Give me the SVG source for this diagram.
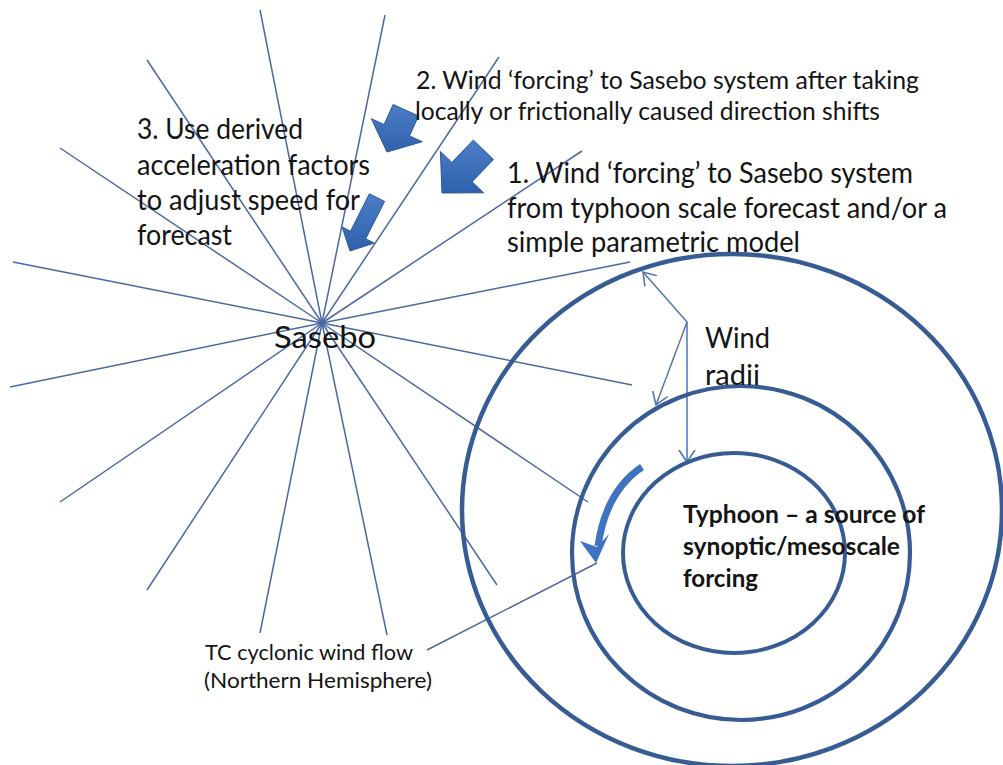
<svg xmlns="http://www.w3.org/2000/svg" width="1003" height="765" viewBox="0 0 1003 765">
<style>
.ray{stroke:#4A68A4;stroke-width:1.5;fill:none}
.ring{stroke:#375C93;fill:none}
.txt{font-family:Lato,"Liberation Sans",sans-serif;fill:#141414}
.blk{fill:url(#bg);stroke:#2C5899;stroke-width:1}
.rad{stroke:#5A76A4;stroke-width:1.5;fill:none;marker-end:url(#v)}
.rad2{stroke:#3F77C6;stroke-width:1.5;fill:none;marker-end:url(#v2)}
</style>
<defs>
<linearGradient id="bg" x1="0" y1="0" x2="0" y2="1">
<stop offset="0" stop-color="#4C7EC6"/>
<stop offset="1" stop-color="#2F62AC"/>
</linearGradient>
<marker id="v" viewBox="0 0 13 18" markerWidth="13" markerHeight="18" refX="12" refY="9" orient="auto" markerUnits="userSpaceOnUse">
<path d="M0,1 L12,9 L0,17" fill="none" stroke="#5A76A4" stroke-width="1.6"/>
</marker>
<marker id="v2" viewBox="0 0 13 18" markerWidth="13" markerHeight="18" refX="12" refY="9" orient="auto" markerUnits="userSpaceOnUse">
<path d="M0,1 L12,9 L0,17" fill="none" stroke="#3F77C6" stroke-width="1.6"/>
</marker>
</defs>
<rect width="1003" height="765" fill="#ffffff"/>

<g id="connectors">
<g id="rays">
<line class="ray" x1="322" y1="323" x2="260" y2="10"/>
<line class="ray" x1="322" y1="323" x2="385" y2="15"/>
<line class="ray" x1="322" y1="323" x2="147" y2="60"/>
<line class="ray" x1="322" y1="323" x2="60" y2="148"/>
<line class="ray" x1="322" y1="323" x2="499" y2="57"/>
<line class="ray" x1="322" y1="323" x2="582" y2="151"/>
<line class="ray" x1="322" y1="323" x2="630" y2="262"/>
<line class="ray" x1="322" y1="323" x2="13" y2="262"/>
<line class="ray" x1="322" y1="323" x2="10" y2="387"/>
<line class="ray" x1="322" y1="323" x2="632" y2="385"/>
<line class="ray" x1="322" y1="323" x2="60" y2="502"/>
<line class="ray" x1="322" y1="323" x2="147" y2="590"/>
<line class="ray" x1="322" y1="323" x2="260" y2="633"/>
<line class="ray" x1="322" y1="323" x2="387" y2="635"/>
<line class="ray" x1="322" y1="323" x2="497" y2="585"/>
<line class="ray" x1="322" y1="323" x2="588" y2="502"/>
</g>
<line class="ray" x1="427" y1="650" x2="597" y2="563"/>
<path class="rad" d="M687,322 L643,272"/>
<path class="rad" d="M687,322 L656,405"/>
<path class="rad2" d="M687,322 L687,462"/>
</g>

<g id="typhoon">
<ellipse class="ring" cx="732" cy="510" rx="270" ry="256" stroke-width="4.5"/>
<ellipse class="ring" cx="741" cy="553" rx="169" ry="167" stroke-width="4.2"/>
<ellipse class="ring" cx="734" cy="553" rx="111" ry="100" stroke-width="4"/>
<text class="txt" font-weight="bold" font-size="24"><tspan x="683" y="523" textLength="242" lengthAdjust="spacingAndGlyphs">Typhoon – a source of</tspan><tspan x="683" y="555" textLength="217" lengthAdjust="spacingAndGlyphs">synoptic/mesoscale</tspan><tspan x="683" y="587" textLength="75" lengthAdjust="spacingAndGlyphs">forcing</tspan></text>
</g>

<g id="cyclonic-flow">
<path d="M642,467 Q606,491 598,546" fill="none" stroke="#3E73C2" stroke-width="7"/>
<polygon points="596,563 580,541 597,547 609,534" fill="#3E73C2"/>
<text class="txt" font-size="21"><tspan x="205" y="660" textLength="208" lengthAdjust="spacingAndGlyphs">TC cyclonic wind flow</tspan><tspan x="204" y="688" textLength="228" lengthAdjust="spacingAndGlyphs">(Northern Hemisphere)</tspan></text>
</g>

<g id="wind-radii">
<text class="txt" font-size="28"><tspan x="705" y="348" textLength="65" lengthAdjust="spacingAndGlyphs">Wind</tspan><tspan x="705" y="385" textLength="55" lengthAdjust="spacingAndGlyphs">radii</tspan></text>
</g>

<g id="sasebo">
<text class="txt" font-size="31" x="274" y="348" textLength="102" lengthAdjust="spacingAndGlyphs">Sasebo</text>
</g>

<g id="step1">
<polygon class="blk" points="442,193 483.6,192.8 472.1,181.8 493.5,159.5 473.3,140.1 451.9,162.4 440.4,151.4"/>
<text class="txt" font-size="28"><tspan x="507" y="183" textLength="406" lengthAdjust="spacingAndGlyphs">1. Wind ‘forcing’ to Sasebo system</tspan><tspan x="507" y="218" textLength="440" lengthAdjust="spacingAndGlyphs">from typhoon scale forecast and/or a</tspan><tspan x="507" y="252" textLength="293" lengthAdjust="spacingAndGlyphs">simple parametric model</tspan></text>
</g>

<g id="step2">
<polygon class="blk" points="387,152 422.3,141.7 409.5,135.9 418.5,115.9 393.1,104.5 384.1,124.5 371.3,118.7"/>
<text class="txt" font-size="25"><tspan x="416" y="89" textLength="503" lengthAdjust="spacingAndGlyphs">2. Wind ‘forcing’ to Sasebo system after taking</tspan><tspan x="415" y="120" textLength="465" lengthAdjust="spacingAndGlyphs">locally or frictionally caused direction shifts</tspan></text>
</g>

<g id="step3">
<polygon class="blk" points="350,251 374.1,243.1 365.7,238.8 384.6,201.4 369.4,193.8 350.5,231.2 342.1,226.9"/>
<text class="txt" font-size="28"><tspan x="137" y="139" textLength="166" lengthAdjust="spacingAndGlyphs">3. Use derived</tspan><tspan x="137" y="175" textLength="233" lengthAdjust="spacingAndGlyphs">acceleration factors</tspan><tspan x="137" y="210" textLength="223" lengthAdjust="spacingAndGlyphs">to adjust speed for</tspan><tspan x="137" y="245" textLength="95" lengthAdjust="spacingAndGlyphs">forecast</tspan></text>
</g>
</svg>
